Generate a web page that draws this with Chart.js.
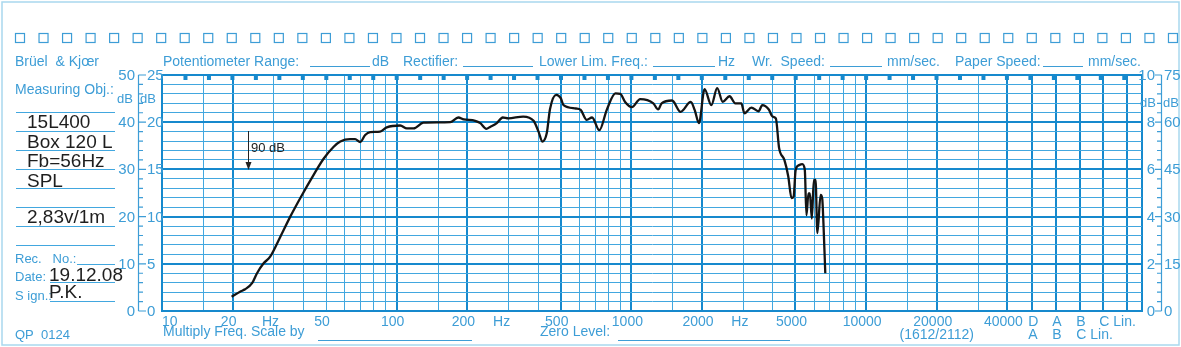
<!DOCTYPE html>
<html lang="en">
<head>
<meta charset="UTF-8">
<title>15L400 Box 120 L – SPL</title>
<script src="https://cdn.jsdelivr.net/npm/chart.js"></script>
<style>
  body { margin: 0; background: #fff; }
  canvas { display: block; }
</style>
</head>
<body>
<canvas id="chart" width="1181" height="347"></canvas>
<script>
// level recording: frequency (Hz) and level on the 50 dB scale
const freqs = [19.8, 21.5, 22.6, 24.2, 25.4, 27.1, 28.9, 31.9, 35.2, 38.8, 44.2, 48.9, 53.9, 57.5,
  63.3, 66.5, 69.9, 73.4, 77.1, 84.9, 90.7, 103.5, 110.5, 118, 130, 169, 183, 193, 216, 227, 241,
  250, 267, 283, 299, 346, 383, 402, 418, 436, 450, 478, 500, 514, 580, 608, 645, 680, 730, 785,
  855, 897, 940, 1004, 1090, 1240, 1300, 1345, 1490, 1620, 1790, 1860, 1940, 2050, 2190, 2320,
  2450, 2620, 2770, 2940, 3030, 3245, 3480, 3610, 3850, 3990, 4125, 4260, 4485, 4660, 4810, 4910,
  5010, 5180, 5350, 5480, 5570, 5680, 5760, 5870, 5990, 6090, 6200, 6400, 6500, 6580, 6700];
const levels = [3.0, 4.1, 4.6, 5.9, 8.0, 10.1, 11.5, 15.7, 20.0, 23.9, 28.8, 32.3, 34.8, 35.9,
  36.4, 36.4, 35.8, 37.3, 37.9, 38.0, 38.9, 39.3, 38.7, 38.7, 39.9, 40.0, 41.0, 40.6, 40.3, 39.8, 38.6,
  39.0, 39.8, 41.0, 40.8, 41.2, 40.3, 38.0, 35.9, 37.7, 42.8, 45.8, 45.1, 43.6, 42.9, 42.6, 40.5, 41.0, 38.3, 42.6,
  46.1, 46.0, 44.3, 43.2, 44.9, 44.0, 42.7, 44.0, 44.6, 42.2, 44.3, 42.6, 39.8, 47.0, 43.6, 47.2,
  44.3, 45.5, 44.0, 44.0, 41.9, 43.1, 42.3, 43.6, 42.7, 41.2, 40.8, 34.5, 32.0, 28.5, 23.9, 24.2,
  29.9, 30.9, 31.1, 29.9, 20.3, 24.9, 24.9, 19.6, 27.8, 27.8, 16.5, 24.6, 23.9, 18.6, 8.0];

// paper ruling
const gridFreqs = [10, 15, 20, 30, 40, 50, 60, 70, 80, 90, 100, 150, 200, 300, 400, 500, 600, 700, 800, 900,
  1000, 1500, 2000, 3000, 4000, 5000, 6000, 7000, 8000, 9000, 10000, 15000, 20000, 30000, 40000];
const boldFreqs = [10, 20, 100, 200, 500, 1000, 2000, 5000, 10000, 20000, 40000];
const filterFreqs = [51000, 64600, 81800, 102500, 129500];   // D, A, B, C, Lin.
const xMin = 10, xMax = 149800;
const freqLabels = ['10', '20', '50', '100', '200', '500', '1000', '2000', '5000', '10000', '20000', '40000'];
const freqLabelAt = [10, 20, 50, 100, 200, 500, 1000, 2000, 5000, 10000, 20000, 40000];
const hzLabelAt = [29, 280, 2900];
const filterRow1 = ['D', 'A', 'B', 'C Lin.'];
const filterRow2 = ['A', 'B', 'C Lin.'];
const dbSteps = [50, 40, 30, 20, 10, 0];
const leftOuter = ['50', '40', '30', '20', '10', '0'];
const leftInner = ['25', '20', '15', '10', '5', '0'];
const rightInner = ['10', '8', '6', '4', '2', '0'];
const rightOuter = ['75', '60', '45', '30', '15', '0'];

const ink = '#1689cd';
const thin = '#42a7df';
const txt = '#3d9dd6';
const pale = '#a9d8ee';
const FONT = '"Liberation Sans", Arial, sans-serif';

const paper = {
  id: 'paper',
  beforeDraw(chart) {
    const c = chart.ctx;
    c.save();
    c.fillStyle = '#fff';
    c.fillRect(0, 0, chart.width, chart.height);
    c.restore();
  },
  afterDraw(chart) {
    const c = chart.ctx;
    const xs = chart.scales.x, ys = chart.scales.y;
    const top = chart.chartArea.top, bottom = chart.chartArea.bottom;
    c.save();

    // page border
    c.strokeStyle = pale; c.lineWidth = 1.5;
    c.strokeRect(2, 2, 1177, 343);

    // sprocket squares
    c.strokeStyle = txt; c.lineWidth = 1.2;
    for (let i = 0; i < 50; i++) c.strokeRect(15.5 + i * 23.53, 33.5, 9, 9);

    // third-octave marks hanging from the top edge
    c.fillStyle = ink;
    for (let n = 1; n <= 41; n++) {
      const px = xs.getPixelForValue(Math.pow(10, 1 + n / 10));
      c.fillRect(px - 2, top, 4, 5);
    }

    const text = (s, x, y, align, size, color) => {
      c.font = (size || 14) + 'px ' + FONT;
      c.textAlign = align || 'left';
      c.textBaseline = 'alphabetic';
      c.fillStyle = color || txt;
      c.fillText(s, x, y);
    };
    const rule = (x1, x2, y, color) => {
      c.strokeStyle = color || txt; c.lineWidth = 1;
      c.beginPath(); c.moveTo(x1, y + 0.5); c.lineTo(x2, y + 0.5); c.stroke();
    };

    // header
    text('Brüel  & Kjœr', 15, 66);
    text('Potentiometer Range:', 163, 66); rule(310, 370, 66); text('dB', 372, 66);
    text('Rectifier:', 403, 66); rule(463, 533, 66);
    text('Lower Lim. Freq.:', 539, 66); rule(653, 715, 66); text('Hz', 718, 66);
    text('Wr.  Speed:', 752, 66); rule(830, 882, 66); text('mm/sec.', 887, 66);
    text('Paper Speed:', 955, 66); rule(1043, 1083, 66); text('mm/sec.', 1088, 66);

    // measuring object panel
    text('Measuring Obj.:', 15, 94);
    [112, 131, 150, 169, 188, 207, 226, 245].forEach(y => rule(16, 115, y, thin));
    const blk = '#1e1e1e';
    text('15L400', 27, 128, 'left', 19, blk);
    text('Box 120 L', 27, 148, 'left', 19, blk);
    text('Fb=56Hz', 27, 167, 'left', 19, blk);
    text('SPL', 27, 187, 'left', 19, blk);
    text('2,83v/1m', 27, 223, 'left', 19, blk);
    text('Rec.   No.:', 15, 263, 'left', 13); rule(77, 115, 264, thin);
    text('Date:', 15, 281, 'left', 13); rule(50, 115, 282, thin);
    text('19.12.08', 49, 281, 'left', 19, blk);
    text('S ign.:', 15, 300, 'left', 13); rule(50, 115, 301, thin);
    text('P.K.', 49, 298, 'left', 19, blk);
    text('QP  0124', 15, 339, 'left', 13);

    // left and right dB columns
    c.strokeStyle = txt; c.lineWidth = 1.2;
    c.beginPath(); c.moveTo(138.5, top); c.lineTo(138.5, bottom); c.stroke();
    c.beginPath(); c.moveTo(1161.5, top); c.lineTo(1161.5, bottom); c.stroke();
    for (let v = 0; v <= 50; v += 2) {
      const py = ys.getPixelForValue(v);
      const major = v % 10 === 0;
      c.beginPath();
      c.moveTo(138.5, py); c.lineTo(major ? 146 : 143, py);
      c.moveTo(1161.5, py); c.lineTo(major ? 1155 : 1157, py);
      c.stroke();
    }
    dbSteps.forEach((v, i) => {
      const py = ys.getPixelForValue(v) + 5;
      text(leftOuter[i], 135, py, 'right', 15);
      text(leftInner[i], 147, py, 'left', 15);
      text(rightInner[i], 1155, py, 'right', 15);
      text(rightOuter[i], 1164, py, 'left', 15);
    });
    text('dB', 133, 103, 'right', 13); text('dB', 140, 103, 'left', 13);
    text('dB', 1156, 107, 'right', 13); text('dB', 1163, 107, 'left', 13);

    // frequency labels
    freqLabels.forEach((s, i) => {
      const px = xs.getPixelForValue(freqLabelAt[i]);
      text(s, i === 0 ? px : px - 4, 326, i === 0 ? 'left' : 'center', 14);
    });
    hzLabelAt.forEach(f => text('Hz', xs.getPixelForValue(f), 326, 'center', 14));
    filterRow1.forEach((s, i) => text(s, xs.getPixelForValue(filterFreqs[i]) - 4, 326, 'left', 14));
    filterRow2.forEach((s, i) => text(s, xs.getPixelForValue(filterFreqs[i]) - 4, 339, 'left', 14));
    text('(1612/2112)', xs.getPixelForValue(20000), 339, 'center', 14);
    text('Multiply Freq. Scale by', 163, 336, 'left', 14); rule(318, 472, 340);
    text('Zero Level:', 540, 336, 'left', 14); rule(618, 790, 340);

    // 90 dB reference arrow
    c.strokeStyle = '#222'; c.fillStyle = '#222'; c.lineWidth = 1;
    c.beginPath(); c.moveTo(248.5, 131); c.lineTo(248.5, 164); c.stroke();
    c.beginPath(); c.moveTo(245.5, 162); c.lineTo(251.5, 162); c.lineTo(248.5, 170); c.closePath(); c.fill();
    text('90 dB', 251, 152, 'left', 13, '#222');

    c.restore();
  }
};

const bold = v => boldFreqs.includes(v) || filterFreqs.includes(v) || v === xMax;

new Chart(document.getElementById('chart'), {
  type: 'line',
  data: {
    datasets: [{
      data: freqs.map((f, i) => ({ x: f, y: levels[i] })),
      borderColor: '#141414',
      borderWidth: 2.3,
      pointRadius: 0,
      cubicInterpolationMode: 'monotone',
      fill: false
    }]
  },
  options: {
    responsive: false,
    animation: false,
    layout: { padding: { left: 162, right: 39, top: 75, bottom: 36 } },
    plugins: { legend: { display: false }, tooltip: { enabled: false } },
    scales: {
      x: {
        type: 'logarithmic',
        min: xMin, max: xMax,
        afterBuildTicks: s => { s.ticks = gridFreqs.concat(filterFreqs, [xMax]).map(v => ({ value: v })); },
        ticks: { display: false },
        grid: {
          drawTicks: false,
          color: ctx => bold(ctx.tick.value) ? ink : thin,
          lineWidth: ctx => bold(ctx.tick.value) ? 2 : 1
        },
        border: { display: true, color: ink, width: 2 }
      },
      y: {
        min: 0, max: 50,
        ticks: { display: false, stepSize: 2 },
        grid: {
          drawTicks: false,
          color: ctx => ctx.tick.value % 10 === 0 ? ink : thin,
          lineWidth: ctx => ctx.tick.value % 10 === 0 ? 2 : 1
        },
        border: { display: true, color: ink, width: 2 }
      }
    }
  },
  plugins: [paper]
});
</script>
</body>
</html>
